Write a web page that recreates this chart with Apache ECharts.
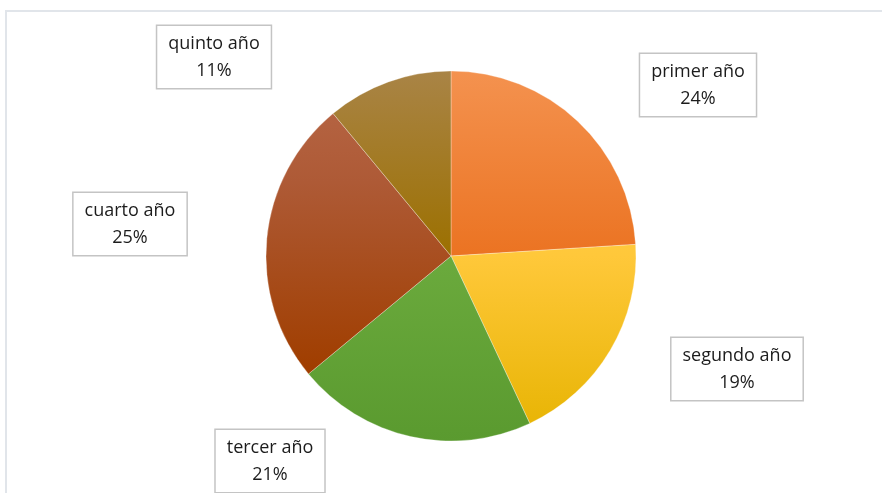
<!DOCTYPE html>
<html>
<head>
<meta charset="utf-8">
<script src="https://cdn.jsdelivr.net/npm/echarts@6/dist/echarts.min.js"></script>
<style>
  html, body { margin: 0; padding: 0; background: #fff; }
  #main { width: 882px; height: 493px; }
</style>
</head>
<body>
<div id="main"></div>
<script>
// datos del grafico
var categorias = ['primer año', 'segundo año', 'tercer año', 'cuarto año', 'quinto año'];
var valores = [24, 19, 21, 25, 11];

// colores con degradado (arriba claro, abajo oscuro)
var degradados = [
  [[0, '#F4924F'], [0.5, '#EB7322'], [1, '#DF650E']],
  [[0, '#FFD458'], [0.5, '#FFC83A'], [1, '#E6B300']],
  [[0, '#7CB84E'], [0.5, '#6BAA3D'], [1, '#5A9A2F']],
  [[0, '#B86848'], [0.3, '#AE5A36'], [0.8, '#A03E00'], [1, '#9C3A00']],
  [[0, '#A98446'], [0.5, '#9C7000'], [1, '#946A00']]
];

// centros de las etiquetas
var posEtiquetas = [[698, 85], [737, 369], [270, 461], [130, 224], [214, 57]];

var chart = echarts.init(document.getElementById('main'));

var datos = categorias.map(function (c, i) {
  return {
    name: c,
    value: valores[i],
    itemStyle: {
      color: {
        type: 'linear', x: 0, y: 71, x2: 0, y2: 441, global: true,
        colorStops: degradados[i].map(function (s) { return { offset: s[0], color: s[1] }; })
      }
    }
  };
});

var option = {
  animation: false,
  graphic: [{
    type: 'rect',
    shape: { x: 6, y: 11, width: 900, height: 500 },
    style: { fill: 'none', stroke: '#e1e5ea', lineWidth: 2 },
    z: -1
  }],
  series: [{
    type: 'pie',
    center: [451, 256],
    radius: 185,
    startAngle: 90,
    clockwise: true,
    data: datos,
    itemStyle: { borderColor: 'rgba(255,255,255,0.6)', borderWidth: 0.5 },
    labelLine: { show: false },
    label: {
      show: true,
      position: 'outside',
      formatter: function (p) { return p.name + '\n' + Math.round(p.percent) + '%'; },
      fontFamily: 'Open Sans',
      fontSize: 18,
      lineHeight: 27,
      color: '#1c1c1c',
      align: 'center',
      backgroundColor: '#fff',
      borderColor: '#c4c4c4',
      borderWidth: 1.5,
      padding: [4, 11]
    },
    labelLayout: function (p) {
      var pos = posEtiquetas[p.dataIndex];
      return { x: pos[0], y: pos[1], align: 'center', verticalAlign: 'middle', hideOverlap: false };
    }
  }]
};

chart.setOption(option);
</script>
</body>
</html>
